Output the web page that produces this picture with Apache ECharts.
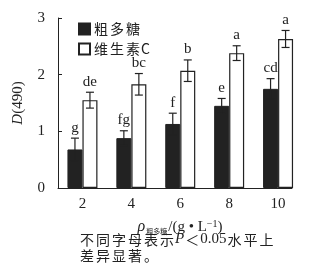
<!DOCTYPE html>
<html>
<head>
<meta charset="utf-8">
<script src="https://cdn.jsdelivr.net/npm/echarts@6/dist/echarts.min.js"></script>
<style>
  html, body { margin: 0; padding: 0; background: #fff; }
  #chart { width: 319px; height: 270px; }
</style>
</head>
<body>
<div id="chart"></div>
<script>
// 浓度 g/L
var concs = [2, 4, 6, 8, 10];
// 粗多糖
var crudeVals = [0.68, 0.88, 1.13, 1.45, 1.75];
var crudeErr = [0.20, 0.13, 0.19, 0.13, 0.18];
var crudeMark = ['g', 'fg', 'f', 'e', 'cd'];
// 维生素C
var vcVals = [1.55, 1.83, 2.07, 2.38, 2.63];
var vcErr = [0.14, 0.19, 0.19, 0.13, 0.15];
var vcMark = ['de', 'bc', 'b', 'a', 'a'];
var yTicks = [0, 1, 2, 3];

var serif = '"Liberation Serif", "Times New Roman", serif';
var cjk = '"Noto Sans CJK SC", sans-serif';
var barW = 15;

var myChart = echarts.init(document.getElementById('chart'));

function pairData(vals, err, mark) {
    var out = [];
    for (var i = 0; i < concs.length; i++) {
        out.push([concs[i], vals[i], err[i], mark[i]]);
    }
    return out;
}

// 中文字间距: 每个汉字包一层 rich
function spaced(str, tag) {
    var s = '';
    for (var i = 0; i < str.length; i++) {
        var ch = str.charAt(i);
        if (/[\u4e00-\u9fa5\u3002\uff1c]/.test(ch)) s += '{' + tag + '|' + ch + '}';
        else s += ch;
    }
    return s;
}

// 误差线 + 字母标记
function makeErrRender(shift) {
    return function (params, api) {
        var x = api.value(0), y = api.value(1), e = api.value(2);
        var top = api.coord([x, y + e]);
        var bot = api.coord([x, y - e]);
        var cx = top[0] + shift;
        var cap = 4;
        var st = { stroke: '#222', lineWidth: 1.2 };
        return {
            type: 'group',
            children: [
                { type: 'line', shape: { x1: cx, y1: top[1], x2: cx, y2: bot[1] }, style: st },
                { type: 'line', shape: { x1: cx - cap, y1: top[1], x2: cx + cap, y2: top[1] }, style: st },
                { type: 'line', shape: { x1: cx - cap, y1: bot[1], x2: cx + cap, y2: bot[1] }, style: st },
                { type: 'text', x: cx, y: top[1] - 3, style: {
                    text: api.value(3), fill: '#222', font: '15px ' + serif,
                    align: 'center', verticalAlign: 'bottom' } }
            ]
        };
    };
}

var option = {
    animation: false,
    grid: { left: 58, right: 27, top: 18, bottom: 82 },
    legend: {
        orient: 'vertical', left: 73, top: 17, itemGap: 6,
        itemWidth: 11, itemHeight: 11, icon: 'rect',
        formatter: function (name) { return spaced(name, 'c'); },
        textStyle: {
            fontFamily: cjk, fontSize: 14, color: '#222', padding: [0, 0, 0, -2],
            rich: { c: { fontFamily: cjk, fontSize: 14, color: '#222', padding: [0, 1, 0, 1] } }
        },
        data: ['粗多糖', '维生素C']
    },
    xAxis: {
        type: 'value', min: 1, max: 10.57,
        axisLine: { lineStyle: { color: '#222' } },
        axisTick: { show: false },
        splitLine: { show: false },
        axisLabel: { customValues: concs, color: '#222', fontFamily: serif, fontSize: 15, margin: 9 },
        name: '{p|ρ}{sub|粗多糖}/(g • L{sup|−1})',
        nameLocation: 'middle', nameGap: 31,
        nameTextStyle: {
            fontFamily: serif, fontSize: 15, color: '#222', padding: [0, 0, 0, 10],
            rich: {
                p: { fontFamily: serif, fontSize: 16, fontStyle: 'italic', color: '#222' },
                sub: { fontFamily: cjk, fontSize: 7, color: '#222', verticalAlign: 'bottom', padding: [6, 1, 0, 1] },
                sup: { fontFamily: serif, fontSize: 10, color: '#222', verticalAlign: 'top', padding: [0, 0, 6, 0] }
            }
        }
    },
    yAxis: {
        type: 'value', min: 0, max: 3, interval: 1,
        axisLine: { show: true, lineStyle: { color: '#222' } },
        axisTick: { show: true, inside: true, length: 4, lineStyle: { color: '#222' } },
        splitLine: { show: false },
        axisLabel: { color: '#222', fontFamily: serif, fontSize: 15, margin: 13,
            formatter: function (v) { return yTicks.indexOf(v) >= 0 ? v : ''; } },
        name: '{i|D}(490)',
        nameLocation: 'middle', nameGap: 32,
        nameTextStyle: {
            fontFamily: serif, fontSize: 15, color: '#222',
            rich: { i: { fontFamily: serif, fontSize: 15, fontStyle: 'italic', color: '#222' } }
        }
    },
    series: [
        {
            name: '粗多糖', type: 'bar', barWidth: barW, barGap: '0%',
            itemStyle: { color: '#222', borderColor: '#222', borderWidth: 1 },
            data: pairData(crudeVals, crudeErr, crudeMark).map(function (d) { return [d[0], d[1]]; })
        },
        {
            name: '维生素C', type: 'bar', barWidth: barW, barGap: '0%',
            itemStyle: { color: '#fff', borderColor: '#222', borderWidth: 1.2 },
            data: pairData(vcVals, vcErr, vcMark).map(function (d) { return [d[0], d[1]]; })
        },
        {
            type: 'custom', renderItem: makeErrRender(-barW / 2), z: 5,
            data: pairData(crudeVals, crudeErr, crudeMark)
        },
        {
            type: 'custom', renderItem: makeErrRender(barW / 2), z: 5,
            data: pairData(vcVals, vcErr, vcMark)
        }
    ],
    graphic: [
        { type: 'text', left: 80, top: 232, style: { text: spaced('不同字母表示', 'c') + '{p|P}' + spaced('＜', 'c') + '0.05' + spaced('水平上', 'c'),
            font: '15px ' + serif, fill: '#222',
            rich: {
                c: { fontFamily: cjk, fontSize: 14, fill: '#222', padding: [0, 1, 0, 1] },
                p: { fontFamily: serif, fontSize: 15, fontStyle: 'italic', fill: '#222' }
            } } },
        { type: 'text', left: 80, top: 249, style: { text: spaced('差异显著。', 'c'), font: '14px ' + cjk, fill: '#222',
            rich: { c: { fontFamily: cjk, fontSize: 14, fill: '#222', padding: [0, 1, 0, 1] } } } }
    ]
};

myChart.setOption(option);
</script>
</body>
</html>
